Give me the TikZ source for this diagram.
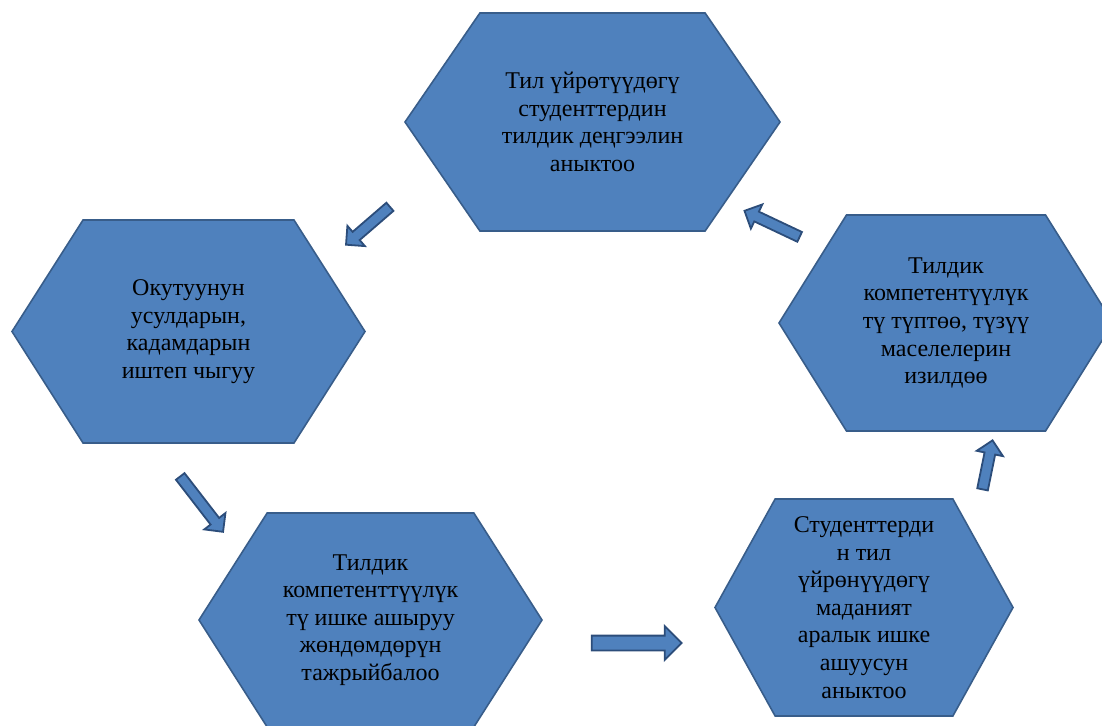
\documentclass[tikz,border=0pt]{standalone}
\usepackage{fontspec}
\setmainfont{Liberation Serif}
\usetikzlibrary{shapes.symbols,shapes.arrows}
\definecolor{hexfill}{HTML}{4F81BD}
\definecolor{hexline}{HTML}{385D8A}
\definecolor{arrline}{HTML}{2C4D7A}

\begin{document}
\begin{tikzpicture}[x=1pt, y=-1pt,
  hexa/.style={signal, signal to=west and east, signal from=nowhere,
    draw=hexline, fill=hexfill, line width=1.6pt, inner sep=0pt,
    align=center, font=\fontsize{24}{27.6}\selectfont},
  fleche/.style={single arrow, draw=arrline, fill=hexfill, line width=1.8pt,
    inner xsep=0pt, inner ysep=4.5pt, single arrow head extend=8,
    minimum height=#1}]
\useasboundingbox (0,0) rectangle (1102,725);
% Hexagones
\node[hexa, minimum width=375, minimum height=218, signal pointer angle=111] (level) at (592.5,122) {Тил үйрөтүүдөгү\\студенттердин\\тилдик деңгээлин\\аныктоо};
\node[hexa, minimum width=353, minimum height=223, signal pointer angle=115] (methods) at (188.5,331.5) {Окутуунун\\усулдарын,\\кадамдарын\\иштеп чыгуу};
\node[hexa, minimum width=343, minimum height=214, signal pointer angle=115] (practice) at (370.5,620) {Тилдик\\компетенттүүлүк\\тү ишке ашыруу\\жөндөмдөрүн\\тажрыйбалоо};
\node[hexa, minimum width=298, minimum height=217, signal pointer angle=122] (culture) at (864,607.5) {Студенттерди\\н тил\\үйрөнүүдөгү\\маданият\\аралык ишке\\ашуусун\\аныктоо};
\node[hexa, minimum width=334, minimum height=216, signal pointer angle=116] (research) at (946,323) {Тилдик\\компетентүүлүк\\тү түптөө, түзүү\\маселелерин\\изилдөө};
% Fleches
\node[fleche=58, rotate=220.8] (a1) at (370,224) {};
\node[fleche=70, rotate=-52.3] (a2) at (200,502) {};
\node[fleche=90, inner ysep=6.5pt, single arrow head extend=9.5] (a3) at (633,643) {};
\node[fleche=50, rotate=78.5] (a4) at (987,467.5) {};
\node[fleche=61, rotate=154.7] (a5) at (774.5,225) {};
\end{tikzpicture}
\end{document}
